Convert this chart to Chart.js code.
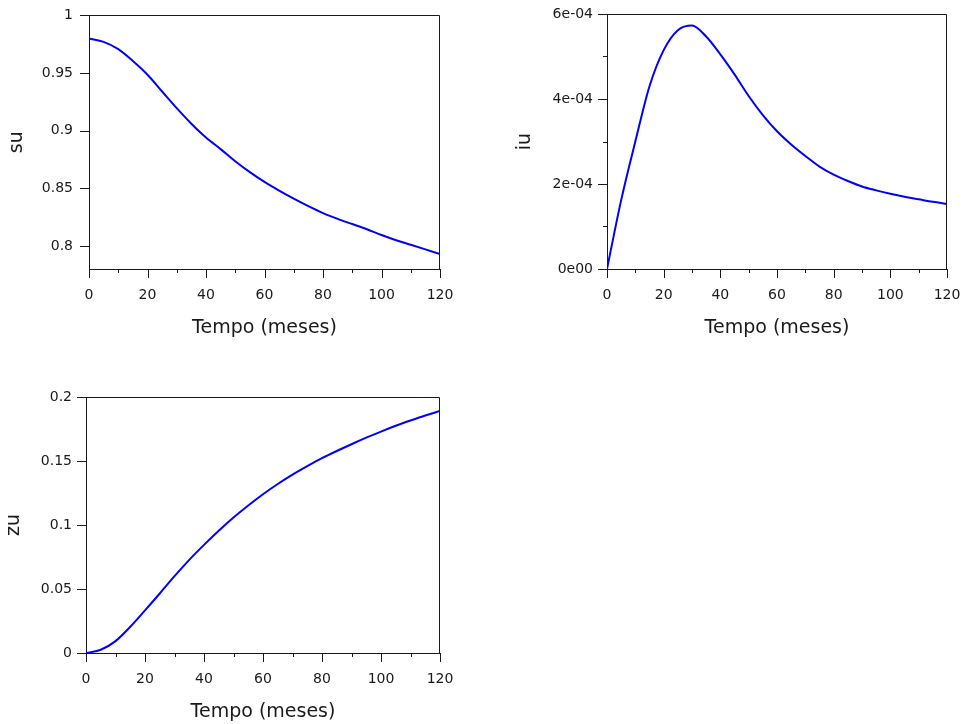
<!DOCTYPE html>
<html>
<head>
<meta charset="utf-8">
<title>su, iu, zu</title>
<script src="https://cdn.jsdelivr.net/npm/chart.js@4/dist/chart.umd.min.js"></script>
<style>
  html, body { margin: 0; padding: 0; background: #fff; overflow: hidden; }
  body { width: 963px; height: 724px; position: relative; }
  canvas { position: absolute; }
</style>
</head>
<body>
<canvas id="suChart" width="480" height="345" style="left:0;top:0"></canvas>
<canvas id="iuChart" width="473" height="345" style="left:500px;top:0"></canvas>
<canvas id="zuChart" width="480" height="346" style="left:0;top:383px"></canvas>
<script>
"use strict";

// Time axis, sampled every 5 months
const months = [0, 5, 10, 15, 20, 25, 30, 35, 40, 45, 50, 55, 60,
                65, 70, 75, 80, 85, 90, 95, 100, 105, 110, 115, 120];

// Series
const su = [0.980, 0.977, 0.9707, 0.9604, 0.9485, 0.934, 0.9195, 0.906, 0.894, 0.884, 0.8735, 0.864, 0.8555,
            0.848, 0.841, 0.8345, 0.8285, 0.8235, 0.819, 0.8145, 0.8095, 0.805, 0.801, 0.797, 0.793];
const iu = [0, 1.62e-4, 3.0e-4, 4.3e-4, 5.15e-4, 5.62e-4, 5.73e-4, 5.47e-4, 5.05e-4, 4.58e-4, 4.07e-4, 3.62e-4, 3.24e-4,
            2.93e-4, 2.66e-4, 2.41e-4, 2.22e-4, 2.07e-4, 1.94e-4, 1.85e-4, 1.77e-4, 1.70e-4, 1.64e-4, 1.58e-4, 1.53e-4];
const zu = [0, 0.0025, 0.0093, 0.0205, 0.0333, 0.0465, 0.060, 0.0728, 0.0845, 0.0955, 0.1058, 0.1152, 0.124,
            0.132, 0.1393, 0.146, 0.1522, 0.1578, 0.1631, 0.1682, 0.173, 0.1775, 0.1816, 0.1855, 0.189];

// Ticks
const monthTicks = [0, 20, 40, 60, 80, 100, 120];
const monthMinor = [10, 30, 50, 70, 90, 110];
const suTicks = [0.8, 0.85, 0.9, 0.95, 1];
const suLabels = ["0.8", "0.85", "0.9", "0.95", "1"];
const iuTicks = [0, 2e-4, 4e-4, 6e-4];
const iuLabels = ["0e00", "2e-04", "4e-04", "6e-04"];
const iuMinor = [1e-4, 3e-4, 5e-4];
const zuTicks = [0, 0.05, 0.1, 0.15, 0.2];
const zuLabels = ["0", "0.05", "0.1", "0.15", "0.2"];

const INK = "#1a1a1a";
const FONT = "'DejaVu Sans', sans-serif";

// Top and right sides of the box (bottom/left are the axis borders)
const framePlugin = {
    id: "frame",
    afterDraw(chart) {
        const { ctx, chartArea: a } = chart;
        const l = Math.round(a.left), t = Math.round(a.top) + 0.5;
        const r = Math.round(a.right) - 0.5, b = Math.round(a.bottom);
        ctx.save();
        ctx.strokeStyle = INK;
        ctx.lineWidth = 1;
        ctx.beginPath();
        ctx.moveTo(l, t);
        ctx.lineTo(r, t);
        ctx.lineTo(r, b);
        ctx.stroke();
        ctx.restore();
    }
};

// Tick marks: long ones at the labels, short ones in between
function tickMarks(xMajor, xMinor, yMajor, yMinor) {
    return {
        id: "tickMarks",
        afterDraw(chart) {
            const { ctx, chartArea: a, scales } = chart;
            const bottom = Math.round(a.bottom), left = Math.round(a.left);
            ctx.save();
            ctx.strokeStyle = INK;
            ctx.lineWidth = 1;
            ctx.beginPath();
            const xTick = (v, len) => {
                const px = Math.round(scales.x.getPixelForValue(v)) + 0.5;
                ctx.moveTo(px, bottom);
                ctx.lineTo(px, bottom + len);
            };
            const yTick = (v, len) => {
                const py = Math.round(scales.y.getPixelForValue(v)) + 0.5;
                ctx.moveTo(left, py);
                ctx.lineTo(left - len, py);
            };
            xMajor.forEach(v => xTick(v, 9));
            xMinor.forEach(v => xTick(v, 4));
            yMajor.forEach(v => yTick(v, 9));
            yMinor.forEach(v => yTick(v, 4));
            ctx.stroke();
            ctx.restore();
        }
    };
}

// Scale grid only reserves room for the tick marks; the plugin draws them
const hiddenTicks = { drawOnChartArea: false, drawTicks: true, tickLength: 9, color: "rgba(0,0,0,0)", tickColor: "rgba(0,0,0,0)" };

function makeChart(id, cfg) {
    return new Chart(document.getElementById(id), {
        type: "line",
        data: {
            datasets: [{
                data: months.map((m, i) => ({ x: m, y: cfg.values[i] })),
                borderColor: "#0000ff",
                borderWidth: 2,
                pointRadius: 0,
                cubicInterpolationMode: "monotone",
                fill: false
            }]
        },
        options: {
            responsive: false,
            animation: false,
            events: [],
            layout: { padding: { top: 14, right: cfg.padRight, bottom: 0, left: 0 } },
            plugins: { legend: { display: false }, tooltip: { enabled: false } },
            scales: {
                x: {
                    type: "linear",
                    min: 0,
                    max: 120,
                    afterBuildTicks: s => { s.ticks = monthTicks.map(v => ({ value: v })); },
                    afterFit: s => { s.height = 76; },
                    grid: hiddenTicks,
                    border: { color: INK, width: 1 },
                    ticks: {
                        color: INK, font: { family: FONT, size: 14 }, padding: 9,
                        maxRotation: 0, autoSkip: false,
                        callback: v => String(v)
                    },
                    title: {
                        display: true, text: "Tempo (meses)", color: INK,
                        font: { family: FONT, size: 19 }, padding: { top: 0, bottom: 6 }
                    }
                },
                y: {
                    type: "linear",
                    min: cfg.yMin,
                    max: cfg.yMax,
                    afterBuildTicks: s => { s.ticks = cfg.yTicks.map(v => ({ value: v })); },
                    afterFit: s => { s.width = cfg.yWidth; },
                    grid: hiddenTicks,
                    border: { color: INK, width: 1 },
                    ticks: {
                        color: INK, font: { family: FONT, size: 14 }, padding: cfg.labelPad,
                        autoSkip: false,
                        callback: (v, i) => cfg.yLabels[i]
                    },
                    title: {
                        display: true, text: cfg.yTitle, color: INK,
                        font: { family: FONT, size: 19 }, padding: { top: cfg.titlePad, bottom: 0 }
                    }
                }
            }
        },
        plugins: [framePlugin, tickMarks(monthTicks, monthMinor, cfg.yTicks, cfg.yMinor)]
    });
}

makeChart("suChart", {
    values: su, yMin: 0.78, yMax: 1, yTicks: suTicks, yLabels: suLabels, yMinor: [],
    yTitle: "su", yWidth: 89, padRight: 40, labelPad: 7, titlePad: 6
});

makeChart("iuChart", {
    values: iu, yMin: 0, yMax: 6e-4, yTicks: iuTicks, yLabels: iuLabels, yMinor: iuMinor,
    yTitle: "iu", yWidth: 107, padRight: 26, labelPad: 5, titlePad: 14
});

makeChart("zuChart", {
    values: zu, yMin: 0, yMax: 0.2, yTicks: zuTicks, yLabels: zuLabels, yMinor: [],
    yTitle: "zu", yWidth: 86, padRight: 40, labelPad: 5, titlePad: 3
});
</script>
</body>
</html>
